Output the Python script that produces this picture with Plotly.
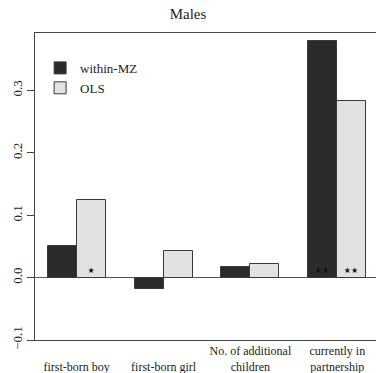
import plotly.graph_objects as go

# Estimated effects by outcome
categories = ["first-born boy", "first-born girl", "No. of additional children", "currently in partnership"]
tick_labels = [" <br>first-born boy", " <br>first-born girl", "No. of additional<br>children", "currently in<br>partnership"]
within_mz = [0.051, -0.0176, 0.0166, 0.379]
ols = [0.125, 0.042, 0.022, 0.283]
within_sig = ["", "", "", "★★"]
ols_sig = ["★", "", "", "★★"]

# Grouped layout: two bars per group, one empty slot between groups
n = len(categories)
x_within = [3 * i + 1.5 for i in range(n)]
x_ols = [3 * i + 2.5 for i in range(n)]
x_centers = [3 * i + 2 for i in range(n)]

serif = "'Liberation Serif', 'Times New Roman', 'DejaVu Serif', serif"
star_font = "'DejaVu Sans', sans-serif"
edge = "#3a3a3a"

fig = go.Figure()
fig.add_trace(go.Bar(
    x=x_within, y=within_mz, width=1.0, name="within-MZ",
    marker=dict(color="#2b2b2b", line=dict(color=edge, width=1)),
    text=within_sig, textposition="inside", insidetextanchor="start",
    textfont=dict(family=star_font, size=8, color="#111111"),
    textangle=0, cliponaxis=False,
))
fig.add_trace(go.Bar(
    x=x_ols, y=ols, width=1.0, name="OLS",
    marker=dict(color="#e2e2e2", line=dict(color=edge, width=1)),
    text=ols_sig, textposition="inside", insidetextanchor="start",
    textfont=dict(family=star_font, size=8, color="#111111"),
    textangle=0, cliponaxis=False,
))

fig.update_layout(
    width=376, height=373,
    margin=dict(l=35, r=0, t=33, b=33),
    paper_bgcolor="white", plot_bgcolor="white",
    font=dict(family=serif, size=13, color="#222222"),
    title=dict(text="Males", x=0.5, xanchor="center", y=0.962, yanchor="middle",
               font=dict(family=serif, size=15, color="#222222")),
    showlegend=True,
    legend=dict(x=0.015, y=0.935, xanchor="left", yanchor="top",
                bgcolor="rgba(0,0,0,0)", font=dict(family=serif, size=13),
                itemwidth=30, tracegroupgap=0),
    bargap=0, barmode="overlay",
    uniformtext=dict(minsize=7, mode="show"),
)
fig.update_xaxes(
    range=[0.56, 12.336], tickvals=x_centers, ticktext=tick_labels,
    showgrid=False, zeroline=False, ticks="",
    showline=True, mirror=True, linecolor="#444444", linewidth=1,
    tickfont=dict(family=serif, size=12, color="#222222"),
    ticklabelstandoff=0, automargin=False,
)
fig.update_yaxes(
    range=[-0.1, 0.392], tickvals=[-0.1, 0.0, 0.1, 0.2, 0.3], tickformat=".1f",
    tickangle=-90, ticks="outside", ticklen=7, tickcolor="#444444",
    showgrid=False, zeroline=True, zerolinecolor="#555555", zerolinewidth=1,
    showline=True, linecolor="#444444", linewidth=1,
    tickfont=dict(family=serif, size=13, color="#222222"),
    automargin=False,
)

fig.write_html("out.html")
